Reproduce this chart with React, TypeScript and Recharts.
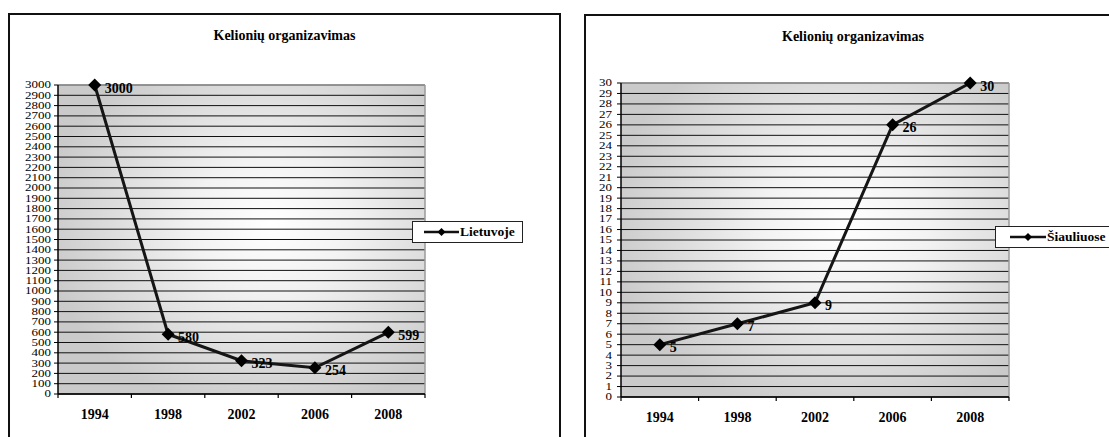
import React from 'react';
import { LineChart, Line, XAxis, YAxis, CartesianGrid, Legend, LabelList, ReferenceLine } from 'recharts';

const years = ['1994', '1998', '2002', '2006', '2008'];
const lietuvoje = [3000, 580, 323, 254, 599];
const siauliuose = [5, 7, 9, 26, 30];
const leftTicks = [0, 100, 200, 300, 400, 500, 600, 700, 800, 900, 1000, 1100, 1200, 1300, 1400, 1500, 1600, 1700, 1800, 1900, 2000, 2100, 2200, 2300, 2400, 2500, 2600, 2700, 2800, 2900, 3000];
const rightTicks = [0, 1, 2, 3, 4, 5, 6, 7, 8, 9, 10, 11, 12, 13, 14, 15, 16, 17, 18, 19, 20, 21, 22, 23, 24, 25, 26, 27, 28, 29, 30];
const bandTicks = [0, 1, 2, 3, 4, 5];
const labelTicks = [0.5, 1.5, 2.5, 3.5, 4.5];
const titleText = 'Kelionių organizavimas';

const FONT = '"Liberation Serif", "Times New Roman", serif';

const makeData = (vals: number[]) => years.map((y, i) => ({ pos: i + 0.5, year: y, value: vals[i] }));

const Diamond = (props: any) => {
  const { cx, cy, index } = props;
  if (cx == null || cy == null) return <g key={`d${index}`} />;
  return <path key={`d${index}`} d={`M${cx},${cy - 6.5}L${cx + 6.5},${cy}L${cx},${cy + 6.5}L${cx - 6.5},${cy}Z`} fill="#000" />;
};

const ValueLabel = (props: any) => {
  const { x, y, value } = props;
  return (
    <text x={x + 10} y={y + 3} dominantBaseline="central" fontFamily={FONT} fontWeight="bold" fontSize={14} fill="#000">
      {value}
    </text>
  );
};

const YTick = (props: any) => {
  const { x, y, payload } = props;
  return (
    <g transform={`translate(${x},${y}) scale(1,0.76)`}>
      <text x={0} y={0} textAnchor="end" dominantBaseline="central" fontFamily={FONT} fontSize={13} fill="#000">
        {payload.value}
      </text>
    </g>
  );
};

const LegendBox = ({ name, width, padLeft, lineW }: { name: string; width: number | string; padLeft: number; lineW: number }) => (
  <div
    style={{
      border: '1px solid #222',
      background: '#fff',
      height: 22,
      width,
      boxSizing: 'border-box',
      display: 'flex',
      alignItems: 'center',
      paddingLeft: padLeft,
      fontFamily: FONT,
      fontWeight: 'bold',
      fontSize: 13.5,
      whiteSpace: 'nowrap',
      color: '#000',
    }}
  >
    <svg width={lineW} height={10} style={{ marginRight: 1, flexShrink: 0 }}>
      <line x1={0} y1={5} x2={lineW} y2={5} stroke="#111" strokeWidth={2.5} />
      <path d={`M${lineW / 2},1L${lineW / 2 + 4},5L${lineW / 2},9L${lineW / 2 - 4},5Z`} fill="#000" />
    </svg>
    <span>{name}</span>
  </div>
);

type PanelProps = {
  id: string;
  name: string;
  values: number[];
  ticks: number[];
  max: number;
  width: number;
  height: number;
  margin: { top: number; right: number; bottom: number; left: number };
  yWidth: number;
  tickMargin: number;
  legendPos: { left: number; top: number; width: number | string };
  legendPad: number;
  legendLine: number;
};

const Panel = (p: PanelProps) => {
  const data = makeData(p.values);
  return (
    <LineChart width={p.width} height={p.height} data={data} margin={p.margin}>
      <defs>
        <radialGradient id={`bg${p.id}`} cx="0.58" cy="0.45" r="0.62">
          <stop offset="0" stopColor="#ffffff" />
          <stop offset="0.35" stopColor="#f2f2f2" />
          <stop offset="1" stopColor="#cacaca" />
        </radialGradient>
      </defs>
      <CartesianGrid
        xAxisId="band"
        vertical={false}
        stroke="#111"
        strokeWidth={1}
        fill={`url(#bg${p.id})`}
        fillOpacity={1}
      />
      <XAxis
        xAxisId="band"
        type="number"
        dataKey="pos"
        domain={[0, 5]}
        ticks={bandTicks}
        interval={0}
        height={6}
        tickSize={4}
        tickFormatter={() => ''}
        axisLine={{ stroke: '#000', strokeWidth: 1.5 }}
        tickLine={{ stroke: '#000', strokeWidth: 1.2 }}
      />
      <XAxis
        xAxisId="lab"
        type="number"
        dataKey="pos"
        domain={[0, 5]}
        ticks={labelTicks}
        interval={0}
        height={30}
        tickSize={0}
        tickMargin={9}
        axisLine={false}
        tickLine={false}
        tickFormatter={(v: number) => years[Math.floor(v)]}
        tick={{ fontFamily: FONT, fontWeight: 'bold', fontSize: 14, fill: '#000' }}
      />
      <YAxis
        type="number"
        domain={[0, p.max]}
        ticks={p.ticks}
        interval={0}
        width={p.yWidth}
        tickSize={4}
        tickMargin={p.tickMargin}
        axisLine={{ stroke: '#000', strokeWidth: 1.5 }}
        tickLine={{ stroke: '#000' }}
        tick={YTick}
      />
      <ReferenceLine xAxisId="band" x={5} stroke="#9a9a9a" strokeWidth={1.5} />
      <ReferenceLine xAxisId="band" y={p.max} stroke="#9a9a9a" strokeWidth={1.5} />
      <Legend
        verticalAlign="middle"
        align="center"
        layout="horizontal"
        wrapperStyle={{ left: p.legendPos.left, top: p.legendPos.top, width: p.legendPos.width, height: 22 }}
        content={() => <LegendBox name={p.name} width={p.legendPos.width} padLeft={p.legendPad} lineW={p.legendLine} />}
      />
      <Line
        xAxisId="band"
        type="linear"
        dataKey="value"
        name={p.name}
        stroke="#151515"
        strokeWidth={3}
        dot={Diamond}
        activeDot={false}
        isAnimationActive={false}
      >
        <LabelList dataKey="value" content={ValueLabel} />
      </Line>
    </LineChart>
  );
};

export default function App() {
  return (
    <div style={{ position: 'fixed', left: 0, top: 0, width: 1109, height: 437, overflow: 'hidden', background: '#fff', fontFamily: FONT }}>
      {/* Left chart frame */}
      <div style={{ position: 'absolute', left: 8, top: 13, width: 553, height: 460, border: '2px solid #111', boxSizing: 'border-box' }} />
      <div style={{ position: 'absolute', left: 8, top: 28, width: 553, textAlign: 'center', fontWeight: 'bold', fontSize: 14, color: '#000' }}>{titleText}</div>
      <div style={{ position: 'absolute', left: 8, top: 13 }}>
        <Panel
          id="L"
          name="Lietuvoje"
          values={lietuvoje}
          ticks={leftTicks}
          max={3000}
          width={553}
          height={424}
          margin={{ top: 72, right: 136, bottom: 7, left: 0 }}
          yWidth={50}
          tickMargin={3}
          legendPos={{ left: 404, top: 208, width: 111 }}
          legendPad={11}
          legendLine={35}
        />
      </div>

      {/* Right chart frame */}
      <div style={{ position: 'absolute', left: 584, top: 14, width: 540, height: 460, border: '2px solid #111', boxSizing: 'border-box' }} />
      <div style={{ position: 'absolute', left: 584, top: 29, width: 538, textAlign: 'center', fontWeight: 'bold', fontSize: 14, color: '#000' }}>{titleText}</div>
      <div style={{ position: 'absolute', left: 584, top: 14 }}>
        <Panel
          id="R"
          name="Šiauliuose"
          values={siauliuose}
          ticks={rightTicks}
          max={30}
          width={600}
          height={423}
          margin={{ top: 69, right: 175, bottom: 4, left: 0 }}
          yWidth={37}
          tickMargin={5}
          legendPos={{ left: 411, top: 212, width: 140 }}
          legendPad={14}
          legendLine={36}
        />
      </div>
    </div>
  );
}
